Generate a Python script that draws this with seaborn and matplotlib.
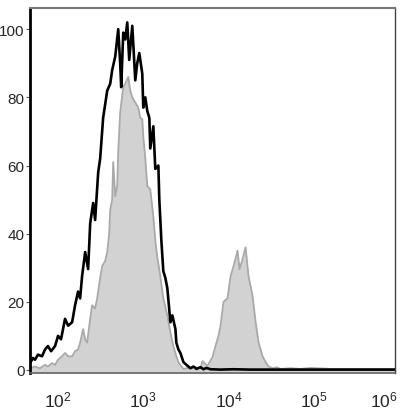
import matplotlib as mpl
mpl.use("Agg")
import matplotlib.pyplot as plt
import matplotlib.transforms as mtransforms
import numpy as np
import pandas as pd
import seaborn as sns

# black histogram (unstained / isotype), log10 fluorescence vs % of max
black_log = [1.718, 1.753, 1.776, 1.812, 1.859, 1.894, 1.929, 1.965, 2.012, 2.047,
             2.082, 2.129, 2.165, 2.212, 2.247, 2.282, 2.306, 2.329, 2.365, 2.400,
             2.424, 2.459, 2.482, 2.518, 2.541, 2.576, 2.600, 2.624, 2.659, 2.682,
             2.718, 2.753, 2.776, 2.788, 2.812, 2.835, 2.859, 2.882, 2.918, 2.953,
             2.976, 3.000, 3.035, 3.047, 3.071, 3.094, 3.118, 3.129, 3.165, 3.188,
             3.224, 3.235, 3.259, 3.282, 3.306, 3.329, 3.365, 3.388, 3.424, 3.435,
             3.459, 3.482, 3.518, 3.553, 3.600, 3.635, 3.671, 3.718, 3.753, 3.788,
             3.835, 3.95, 4.1, 4.3, 4.6, 4.9, 5.2, 5.5, 5.8, 6.0]
black_count = [2, 3.5, 3, 4.5, 4, 6, 7, 5.5, 7, 10,
               9, 15, 13, 14, 19, 23, 21, 27.5, 34.6, 29.6,
               43, 49, 44, 58, 62, 74, 78, 82, 84, 88,
               92, 100, 90, 83, 99, 97, 102, 91, 101, 85,
               90, 93, 87, 77, 80, 76, 74, 65, 71.5, 59,
               60, 50, 38, 29, 27, 24, 14, 16, 12, 8,
               6, 5, 2.3, 1.5, 0.5, 1, 0.3, 0.8, 0.2, 0.6,
               0.2, 0.1, 0.2, 0.1, 0.1, 0.1, 0.1, 0.1, 0.1, 0.1]

# gray filled histogram (stained sample)
gray_log = [1.718, 1.776, 1.835, 1.894, 1.929, 1.976, 2.012, 2.047, 2.094, 2.129,
            2.165, 2.212, 2.247, 2.282, 2.306, 2.341, 2.365, 2.388, 2.424, 2.447,
            2.482, 2.506, 2.541, 2.565, 2.600, 2.624, 2.647, 2.659, 2.682, 2.694,
            2.718, 2.741, 2.753, 2.776, 2.812, 2.835, 2.871, 2.894, 2.918, 2.953,
            2.988, 3.012, 3.035, 3.047, 3.071, 3.094, 3.129, 3.165, 3.188, 3.212,
            3.247, 3.282, 3.329, 3.365, 3.400, 3.435, 3.459, 3.494, 3.518, 3.553,
            3.600, 3.659, 3.718, 3.741, 3.800, 3.859, 3.894, 3.929, 3.953, 3.988,
            4.035, 4.071, 4.106, 4.153, 4.176, 4.212, 4.247, 4.282, 4.329, 4.365,
            4.400, 4.447, 4.482, 4.518, 4.565, 4.612, 4.659, 4.776, 4.894, 5.012,
            5.247, 5.482, 5.718, 6.0]
gray_count = [0.5, 1, 0.5, 1.5, 1, 2, 1.5, 3, 4, 5,
              4, 4, 5.5, 6, 8, 12, 9, 8, 15, 19,
              18, 21, 27, 30.5, 32, 34.6, 40, 47, 50, 61,
              51, 54, 64, 75.6, 83, 84, 86, 82, 80, 78.5,
              77, 74, 73.6, 68.6, 62, 54, 53, 45, 38, 33,
              27.5, 21, 16, 11, 7, 4, 2.3, 1, 0.3, 0.5,
              0.5, 0.8, 0.5, 2.6, 1.2, 3.8, 7, 10, 13, 20,
              21, 27.5, 30.5, 35, 29.6, 32.5, 36, 27.5, 21.7, 14,
              8, 4, 2.3, 1, 0.5, 0.8, 0.3, 0.5, 0.3, 0.6,
              0.3, 0.3, 0.3, 0.3]

x_ticks = [1e2, 1e3, 1e4, 1e5, 1e6]
x_labels = [r"$10^{2}$", r"$10^{3}$", r"$10^{4}$", r"$10^{5}$", r"$10^{6}$"]
y_ticks = [0, 20, 40, 60, 80, 100]

black = pd.DataFrame({"fl": np.power(10.0, black_log), "pct": black_count})
gray = pd.DataFrame({"fl": np.power(10.0, gray_log), "pct": gray_count})

sns.set_style("white")
plt.rcParams["font.family"] = ["Liberation Sans", "DejaVu Sans"]
plt.rcParams["mathtext.fontset"] = "custom"
plt.rcParams["mathtext.rm"] = "Liberation Sans"
plt.rcParams["mathtext.it"] = "Liberation Sans"

fig = plt.figure(figsize=(4.0, 4.14), dpi=100)
ax = fig.add_axes([0.075, 0.0966, 0.9125, 0.8814])

ax.fill_between(gray["fl"], gray["pct"], -1, color="#d2d2d2", lw=0, zorder=1)
sns.lineplot(data=gray, x="fl", y="pct", ax=ax, color="#a9a9a9", lw=1.3, zorder=2)
sns.lineplot(data=black, x="fl", y="pct", ax=ax, color="black", lw=1.9, zorder=3)

ax.set_xscale("log")
ax.set_xlim(10 ** 1.718, 10 ** 6.0)
ax.set_ylim(-0.9, 106.2)
ax.set_xticks(x_ticks)
ax.set_xticklabels(x_labels)
ax.set_yticks(y_ticks)
ax.set(xlabel="", ylabel="")

ax.tick_params(axis="y", direction="out", length=3, width=0.8, color="#555555",
               labelsize=11, pad=1, left=True)
ax.tick_params(axis="x", which="major", direction="in", length=3, width=0.9,
               color="#555555", labelsize=12.5, pad=12, bottom=True)
ax.tick_params(axis="x", which="minor", direction="in", length=2, width=0.6,
               color="#777777", bottom=True)

# FlowJo-style: the "10" sits centred on the tick, last label pulled inside
shifts_px = [4, 4, 4, 4, -11]
for lab, dx in zip(ax.get_xticklabels(), shifts_px):
    off = mtransforms.ScaledTranslation(dx / 100.0, 0, fig.dpi_scale_trans)
    lab.set_transform(lab.get_transform() + off)

ax.spines["left"].set_color("black")
ax.spines["left"].set_linewidth(2.0)
ax.spines["bottom"].set_color("#666666")
ax.spines["bottom"].set_linewidth(1.2)
ax.spines["top"].set_color("#777777")
ax.spines["top"].set_linewidth(1.5)
ax.spines["right"].set_color("#444444")
ax.spines["right"].set_linewidth(1.0)

fig.savefig("out.png", dpi=100)
